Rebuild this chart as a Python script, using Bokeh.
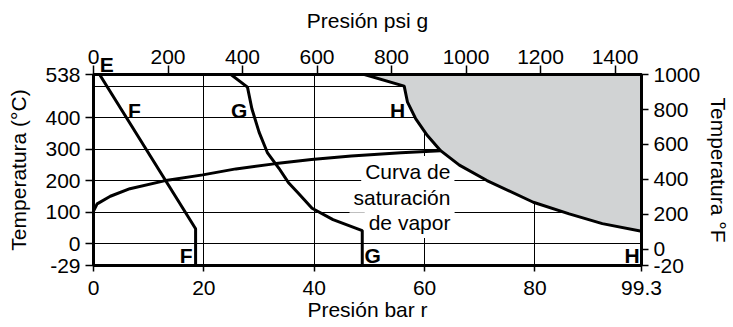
from bokeh.plotting import figure
from bokeh.models import Range1d, LinearAxis, FixedTicker, Label
from bokeh.embed import file_html
from bokeh.resources import INLINE

# ---- axis ticks / labels ----
bar_ticks = [0, 20, 40, 60, 80, 99.3]
psi_ticks = [0, 200, 400, 600, 800, 1000, 1200, 1400]
c_ticks = [-29, 0, 100, 200, 300, 400, 538]
f_ticks = [-20, 0, 200, 400, 600, 800, 1000]
c_grid = [0, 100, 200, 300, 400, 500]
bar_grid = [20, 40, 60, 80]

bar_max = 99.3
psi_max = 1471
c_top = 538
c_floor = -69          # drawn position of the -29 °C / -20 °F bottom line
f_floor = round(c_floor * 9 / 5 + 32, 1)
f_top = round(c_top * 9 / 5 + 32, 1)

# ---- curves (bar r, °C) ----
F_bar = [1.1, 18.5, 18.5]
F_c = [538, 48, -29]

G_bar = [24.9, 27.9, 28.7, 30.0, 31.5, 33.6, 35.3, 37.0, 39.6, 43.4, 48.7, 48.7]
G_c = [538, 498, 429, 355, 290, 240, 195, 163, 113, 77, 42, -29]

H_bar = [49.1, 56.3, 56.9, 58.4, 60.5, 62.9, 66.3, 71.3, 79.7, 86.2, 92.2, 99.3]
H_c = [538, 501, 450, 397, 344, 296, 250, 201, 132, 95, 64, 40]

sat_bar = [0, 0.66, 3.05, 6.6, 12.8, 19.8, 25.8, 32.7, 39.5, 46.7, 55.7, 62.9]
sat_c = [104, 127, 151, 175, 200, 219, 238, 254, 268, 279, 289, 296]

E_bar = 2.4   # point E, written just above the top edge


def ypos(c):
    return c_floor if c <= -29 else c


FONT = "Liberation Sans"

p = figure(width=733, height=327,
           x_range=Range1d(0, bar_max), y_range=Range1d(c_floor, c_top),
           output_backend="svg", toolbar_location=None,
           x_axis_location=None, y_axis_location=None,
           min_border_left=93, min_border_right=87,
           min_border_top=74, min_border_bottom=62,
           background_fill_color="white", border_fill_color="white")

p.extra_x_ranges = {"psi": Range1d(0, psi_max)}
p.extra_y_ranges = {"F": Range1d(f_floor, f_top)}

bottom_axis = LinearAxis()
left_axis = LinearAxis()
top_axis = LinearAxis(x_range_name="psi")
right_axis = LinearAxis(y_range_name="F")
p.add_layout(bottom_axis, "below")
p.add_layout(left_axis, "left")
p.add_layout(top_axis, "above")
p.add_layout(right_axis, "right")

# tickers
bottom_axis.ticker = FixedTicker(ticks=bar_ticks)
bottom_axis.major_label_overrides = {t: f"{t:g}" for t in bar_ticks}
top_axis.ticker = FixedTicker(ticks=psi_ticks)

left_pos = [ypos(t) for t in c_ticks]
left_axis.ticker = FixedTicker(ticks=left_pos)
left_axis.major_label_overrides = {pos: str(t) for pos, t in zip(left_pos, c_ticks)}

right_pos = [f_floor if t <= -20 else t for t in f_ticks]
right_axis.ticker = FixedTicker(ticks=right_pos)
right_axis.major_label_overrides = {pos: str(t) for pos, t in zip(right_pos, f_ticks)}

bottom_axis.axis_label = "Presión bar r"
top_axis.axis_label = "Presión psi g"
left_axis.axis_label = "Temperatura (°C)"
right_axis.axis_label = "Temperatura °F"

for ax in [bottom_axis, top_axis, left_axis, right_axis]:
    ax.major_label_text_font = FONT
    ax.major_label_text_font_size = "21px"
    ax.major_label_text_color = "black"
    ax.axis_label_text_font = FONT
    ax.axis_label_text_font_size = "21px"
    ax.axis_label_text_font_style = "normal"
    ax.axis_label_text_color = "black"
    ax.axis_line_color = "black"
    ax.axis_line_width = 3
    ax.major_tick_line_color = "black"
    ax.major_tick_line_width = 1.5
    ax.major_tick_in = 0
    ax.minor_tick_line_color = None

left_axis.major_tick_out = 8
left_axis.major_label_standoff = 5
left_axis.axis_label_standoff = 12
top_axis.major_tick_out = 9
top_axis.major_label_standoff = 2
top_axis.axis_label_standoff = 15
bottom_axis.major_tick_out = 6
bottom_axis.major_label_standoff = 9
bottom_axis.axis_label_standoff = 0
right_axis.major_tick_out = 7
right_axis.major_label_standoff = 5
right_axis.axis_label_standoff = 4

# letter "E" above the frame: an extra, line-less top axis whose single
# label is pulled back down next to the frame edge
e_axis = LinearAxis(ticker=FixedTicker(ticks=[E_bar]),
                    major_label_overrides={E_bar: "E"},
                    axis_line_color=None, major_tick_line_color=None,
                    minor_tick_line_color=None,
                    major_tick_out=0, major_tick_in=0,
                    major_label_standoff=-70,
                    major_label_text_font=FONT,
                    major_label_text_font_style="bold",
                    major_label_text_font_size="21px",
                    major_label_text_color="black")
p.add_layout(e_axis, "above")

p.xgrid.ticker = FixedTicker(ticks=bar_grid)
p.ygrid.ticker = FixedTicker(ticks=c_grid)
for g in [p.xgrid[0], p.ygrid[0]]:
    g.grid_line_color = "black"
    g.grid_line_alpha = 1.0
    g.grid_line_width = 1

p.outline_line_color = "black"
p.outline_line_width = 3

# text of the saturation curve, with white boxes that hide the grid lines
sat_lines = [("Curva de", 230), ("saturación", 148), ("de vapor", 68)]
for t, y in sat_lines:
    p.add_layout(Label(x=65.4, y=y, text=t, text_font=FONT, text_font_size="21px",
                       text_color="black", text_align="right",
                       text_baseline="alphabetic", level="underlay",
                       background_fill_color="white", padding=4))

# superheat region
p.patch(H_bar + [bar_max], [ypos(c) for c in H_c] + [c_top],
        fill_color="#d1d3d4", line_color=None)

for xs, cs in [(F_bar, F_c), (G_bar, G_c), (H_bar, H_c), (sat_bar, sat_c)]:
    p.line(xs, [ypos(c) for c in cs], line_color="black", line_width=3)

# letter labels inside the frame
letters = [("F", 7.4, 423), ("G", 26.4, 423), ("H", 55.1, 423),
           ("F", 16.8, -37), ("G", 50.6, -37), ("H", 97.6, -37)]
for t, x, y in letters:
    p.add_layout(Label(x=x, y=y, text=t, text_font=FONT, text_font_style="bold",
                       text_font_size="21px", text_color="black",
                       text_align="center", text_baseline="middle"))

open("out.html", "w").write(file_html(p, INLINE))
